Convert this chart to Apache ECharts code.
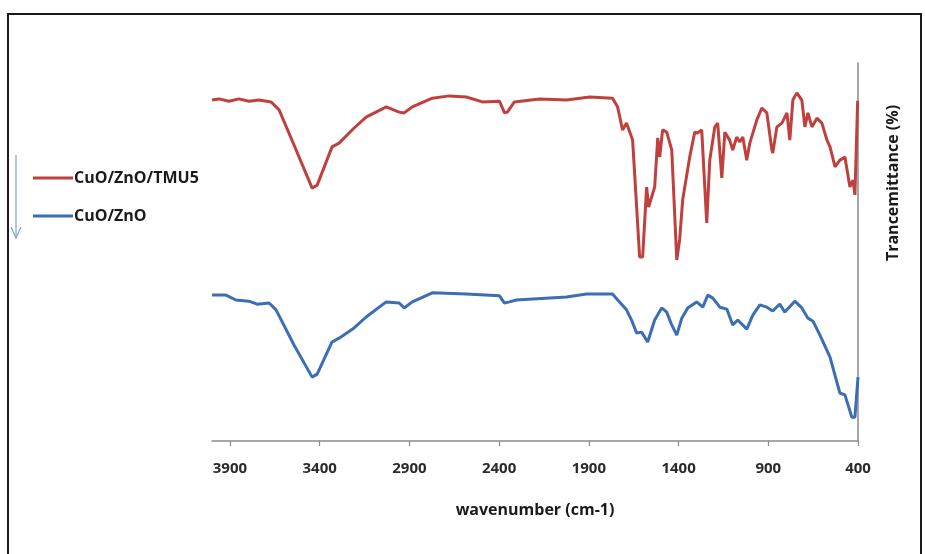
<!DOCTYPE html>
<html>
<head>
<meta charset="utf-8">
<script src="https://cdn.jsdelivr.net/npm/echarts@6/dist/echarts.min.js"></script>
<style>
html,body{margin:0;padding:0;background:#fff;}
#chart{width:925px;height:554px;}
</style>
</head>
<body>
<div id="chart"></div>
<script>
// Wavenumber (cm-1) and transmittance (arbitrary %, offset curves)
var seriesNames = ['CuO/ZnO/TMU5', 'CuO/ZnO'];
var xTicks = [400, 900, 1400, 1900, 2400, 2900, 3400, 3900];

var redWn = [4000,3961,3906,3850,3794,3738,3671,3626,3543,3442,3414,3331,3292,3208,3141,3029,2957,2929,2884,2772,2678,2583,2493,2398,2370,2354,2315,2175,2024,1896,1768,1740,1712,1690,1656,1617,1600,1578,1567,1533,1516,1505,1489,1466,1438,1410,1394,1377,1338,1310,1293,1271,1243,1226,1198,1182,1159,1142,1115,1098,1076,1059,1042,1020,1003,964,936,908,880,875,852,824,796,780,763,741,713,696,679,657,629,601,573,556,528,501,473,445,428,417,402];
var redT  = [90.2,90.5,89.9,90.5,89.9,90.2,89.7,87.6,78.3,66.9,67.7,77.8,78.8,82.8,85.7,88.4,87.0,86.8,88.4,90.7,91.3,91.0,89.7,89.9,86.8,87.0,89.7,90.5,90.2,91.0,90.7,88.4,82.3,84.1,79.6,48.7,48.7,67.2,61.9,67.2,80.2,75.1,82.3,81.7,77.0,47.9,53.2,63.8,75.1,81.7,81.5,82.3,57.7,74.3,83.1,84.1,69.6,81.7,79.6,77.0,80.4,79.1,80.4,74.3,78.8,84.9,88.1,86.8,77.0,76.2,83.1,84.1,86.8,79.6,90.2,92.1,90.2,83.1,86.8,83.1,85.4,84.1,79.6,77.8,72.5,74.3,75.1,67.2,69.0,65.1,90.0];

var blueWn = [4000,3922,3867,3794,3749,3682,3643,3543,3442,3414,3331,3292,3208,3141,3029,2957,2929,2884,2772,2583,2398,2370,2343,2304,2024,1913,1768,1729,1690,1662,1634,1606,1572,1533,1494,1466,1438,1410,1382,1349,1299,1265,1237,1209,1170,1131,1098,1070,1020,986,947,908,875,836,808,752,713,679,651,612,556,501,473,434,417,400];
var blueT  = [38.6,38.6,37.3,37.0,36.2,36.5,34.7,25.4,16.9,17.7,26.2,27.2,29.9,32.8,36.8,36.5,35.2,36.8,39.2,38.9,38.4,36.5,36.8,37.3,38.1,38.9,38.9,36.8,34.7,32.0,28.6,28.8,26.2,32.0,35.2,34.1,30.7,28.0,32.5,35.2,36.8,35.4,38.6,37.8,35.4,34.9,30.7,32.0,29.6,33.3,36.0,35.4,34.4,36.2,34.1,37.0,35.2,32.5,31.7,28.0,22.2,12.7,12.2,6.3,6.3,16.9];

function pairs(xs, ys) { return xs.map(function (x, i) { return [x, ys[i]]; }); }

var FONT = '"Open Sans", "DejaVu Sans", sans-serif';
var chart = echarts.init(document.getElementById('chart'), null, {renderer: 'canvas'});
chart.setOption({
  animation: false,
  backgroundColor: '#ffffff',
  grid: {left: 212, right: 67, top: 63, bottom: 113},
  legend: {
    orient: 'vertical',
    left: 28,
    top: 164,
    itemWidth: 40,
    itemHeight: 3,
    itemGap: 20,
    icon: 'rect',
    textStyle: {fontFamily: FONT, fontWeight: 'bold', fontSize: 16, color: '#1a1a1a', lineHeight: 18, padding: [0,0,0,-4]},
    data: seriesNames
  },
  xAxis: {
    type: 'value',
    inverse: true,
    min: 400,
    max: 4000,
    interval: 500,
    name: 'wavenumber (cm-1)',
    nameLocation: 'middle',
    nameGap: 61,
    nameTextStyle: {fontFamily: FONT, fontWeight: 'bold', fontSize: 16, color: '#1a1a1a'},
    axisLine: {show: true, onZero: false, lineStyle: {color: '#8a8a8a', width: 1.5}},
    axisTick: {show: true, inside: false, length: 5, customValues: xTicks, lineStyle: {color: '#8a8a8a', width: 1.2}},
    axisLabel: {customValues: xTicks, margin: 20, fontFamily: FONT, fontWeight: 'bold', fontSize: 15, color: '#2a2a2a',
      formatter: function (v) { return String(v); }},
    splitLine: {show: false}
  },
  yAxis: {
    type: 'value',
    position: 'right',
    min: 0,
    max: 100,
    axisLine: {show: true, onZero: false, lineStyle: {color: '#8a8a8a', width: 1.5}},
    axisTick: {show: false},
    axisLabel: {show: false},
    splitLine: {show: false}
  },
  series: [
    {
      name: seriesNames[0],
      type: 'line',
      data: pairs(redWn, redT),
      showSymbol: false,
      symbol: 'none',
      lineStyle: {color: '#c0403e', width: 3},
      itemStyle: {color: '#c0403e'}
    },
    {
      name: seriesNames[1],
      type: 'line',
      data: pairs(blueWn, blueT),
      showSymbol: false,
      symbol: 'none',
      lineStyle: {color: '#3b6eb4', width: 3},
      itemStyle: {color: '#3b6eb4'}
    }
  ],
  graphic: [
    {
      type: 'rect',
      shape: {x: 8, y: 14, width: 913, height: 560},
      style: {fill: 'none', stroke: '#1a1a1a', lineWidth: 2},
      silent: true
    },
    {
      type: 'text',
      x: 893,
      y: 183,
      rotation: Math.PI / 2,
      style: {text: 'Trancemittance (%)', fontFamily: FONT, fontWeight: 'bold', fontSize: 16, fill: '#1a1a1a', align: 'center', verticalAlign: 'middle'}
    },
    {
      type: 'polyline',
      shape: {points: [[16, 155], [16, 238]]},
      style: {stroke: '#7fa3cc', lineWidth: 1.2}
    },
    {
      type: 'polyline',
      shape: {points: [[11, 227], [16, 238], [21, 227]]},
      style: {stroke: '#7fa3cc', lineWidth: 1.2, fill: 'none'}
    }
  ]
});
</script>
</body>
</html>
